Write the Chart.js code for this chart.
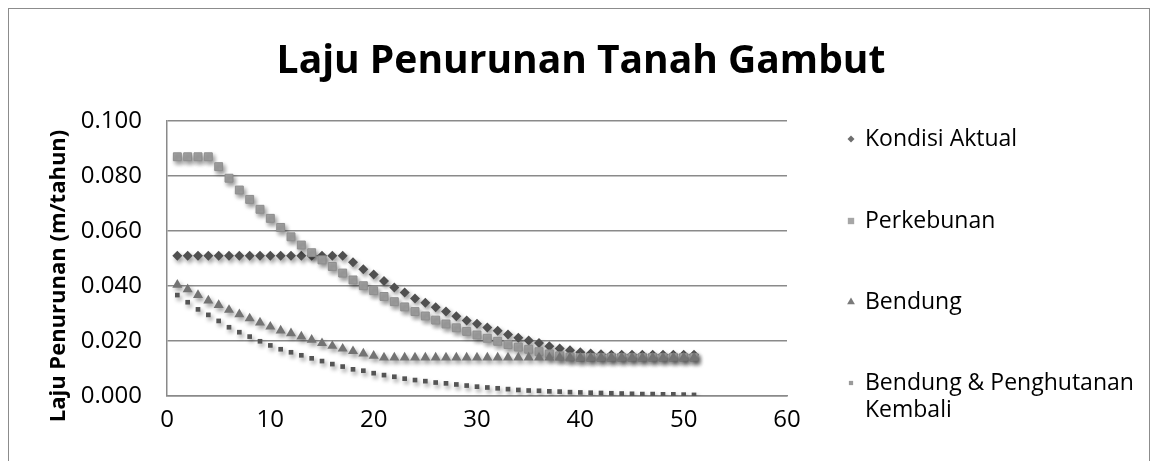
<!DOCTYPE html>
<html>
<head>
<meta charset="utf-8">
<script src="https://cdn.jsdelivr.net/npm/chart.js@4/dist/chart.umd.min.js"></script>
<style>
  html, body { margin: 0; padding: 0; background: #ffffff; }
  #wrap { position: relative; width: 1158px; height: 461px; overflow: hidden; }
  #frame { position: absolute; left: 8px; top: 8px; width: 1142px; height: 480px; border: 1px solid #8c8c8c; box-sizing: border-box; }
  #c { position: absolute; left: 0; top: 0; }
</style>
</head>
<body>
<div id="wrap">
  <div id="frame"></div>
  <canvas id="c" width="1158" height="461"></canvas>
</div>
<script>
// Tahun ke- (sumbu X)
const tahun = [1, 2, 3, 4, 5, 6, 7, 8, 9, 10, 11, 12, 13, 14, 15, 16, 17, 18, 19, 20,
  21, 22, 23, 24, 25, 26, 27, 28, 29, 30, 31, 32, 33, 34, 35, 36, 37, 38, 39, 40,
  41, 42, 43, 44, 45, 46, 47, 48, 49, 50, 51];

// Laju penurunan (m/tahun) per skenario
const kondisiAktual = [0.0510, 0.0510, 0.0510, 0.0510, 0.0510, 0.0510, 0.0510, 0.0510, 0.0510, 0.0510,
  0.0510, 0.0510, 0.0510, 0.0510, 0.0510, 0.0510, 0.0510, 0.0486, 0.0461, 0.0442,
  0.0418, 0.0395, 0.0376, 0.0355, 0.0339, 0.0323, 0.0307, 0.0290, 0.0275, 0.0263,
  0.0249, 0.0237, 0.0224, 0.0212, 0.0202, 0.0193, 0.0181, 0.0173, 0.0166, 0.0159,
  0.0155, 0.0152, 0.0150, 0.0150, 0.0150, 0.0150, 0.0150, 0.0150, 0.0150, 0.0150, 0.0150];

const perkebunan = [0.0870, 0.0870, 0.0870, 0.0870, 0.0834, 0.0792, 0.0749, 0.0715, 0.0679, 0.0646,
  0.0613, 0.0579, 0.0549, 0.0521, 0.0495, 0.0471, 0.0447, 0.0422, 0.0401, 0.0383,
  0.0362, 0.0343, 0.0324, 0.0307, 0.0291, 0.0276, 0.0262, 0.0248, 0.0235, 0.0222,
  0.0210, 0.0199, 0.0187, 0.0178, 0.0170, 0.0161, 0.0153, 0.0146, 0.0142, 0.0140,
  0.0140, 0.0140, 0.0140, 0.0140, 0.0140, 0.0140, 0.0140, 0.0140, 0.0140, 0.0140, 0.0140];

const bendung = [0.0404, 0.0388, 0.0367, 0.0347, 0.0331, 0.0313, 0.0297, 0.0282, 0.0267, 0.0252,
  0.0238, 0.0228, 0.0216, 0.0204, 0.0192, 0.0182, 0.0172, 0.0163, 0.0154, 0.0146,
  0.0140, 0.0140, 0.0140, 0.0140, 0.0140, 0.0140, 0.0140, 0.0140, 0.0140, 0.0140,
  0.0140, 0.0140, 0.0140, 0.0140, 0.0140, 0.0140, 0.0140, 0.0140, 0.0140, 0.0140,
  0.0140, 0.0140, 0.0140, 0.0140, 0.0140, 0.0140, 0.0140, 0.0140, 0.0140, 0.0140, 0.0140];

const bendungPenghutanan = [0.0367, 0.0341, 0.0315, 0.0295, 0.0273, 0.0250, 0.0232, 0.0216, 0.0199, 0.0184,
  0.0170, 0.0159, 0.0148, 0.0137, 0.0127, 0.0116, 0.0107, 0.0097, 0.0092, 0.0083,
  0.0076, 0.0070, 0.0063, 0.0058, 0.0054, 0.0049, 0.0046, 0.0042, 0.0038, 0.0034,
  0.0031, 0.0028, 0.0025, 0.0022, 0.0020, 0.0019, 0.0017, 0.0016, 0.0014, 0.0013,
  0.0012, 0.0011, 0.0010, 0.0009, 0.0008, 0.0007, 0.0007, 0.0006, 0.0006, 0.0005, 0.0004];

const seriesNames = ['Kondisi Aktual', 'Perkebunan', 'Bendung', 'Bendung & Penghutanan Kembali'];
const legendLines = [['Kondisi Aktual'], ['Perkebunan'], ['Bendung'], ['Bendung & Penghutanan', 'Kembali']];
const chartTitle = 'Laju Penurunan Tanah Gambut';
const yTitle = 'Laju Penurunan (m/tahun)';
const xTicks = [0, 10, 20, 30, 40, 50, 60];
const yTicks = [0, 0.02, 0.04, 0.06, 0.08, 0.1];

const FONT = "'Open Sans', 'Liberation Sans', sans-serif";
const AXIS = '#8a8a8a';

function pts(values) {
  return tahun.map((t, i) => ({ x: t, y: values[i] }));
}

// Soft drop shadow under the markers
const markerShadow = {
  id: 'markerShadow',
  beforeDatasetsDraw(chart) {
    const ctx = chart.ctx;
    ctx.save();
    ctx.shadowColor = 'rgba(0,0,0,0.4)';
    ctx.shadowBlur = 4;
    ctx.shadowOffsetX = 2;
    ctx.shadowOffsetY = 3;
  },
  afterDatasetsDraw(chart) {
    chart.ctx.restore();
  }
};

// Title, rotated axis title and side legend
const sideText = {
  id: 'sideText',
  afterDraw(chart) {
    const ctx = chart.ctx;
    ctx.save();
    ctx.fillStyle = '#000000';
    ctx.textAlign = 'center';
    ctx.textBaseline = 'middle';
    ctx.font = "bold 39px " + FONT;
    ctx.fillText(chartTitle, 581, 62);

    ctx.save();
    ctx.translate(59, 276);
    ctx.rotate(-Math.PI / 2);
    ctx.font = "bold 22px " + FONT;
    ctx.fillText(yTitle, 0, 0);
    ctx.restore();

    const itemY = [139, 221, 302, 383];
    const legendMarks = [
      { style: 'rectRot', r: 3.5, fill: '#6e6e6e' },
      { style: 'rect', r: 4.5, fill: '#a6a6a6' },
      { style: 'triangle', r: 4.5, fill: '#7a7a7a' },
      { style: 'rect', r: 3, fill: '#9a9a9a' }
    ];
    ctx.font = "23px " + FONT;
    ctx.textAlign = 'left';
    legendLines.forEach((lines, i) => {
      const m = legendMarks[i];
      ctx.fillStyle = m.fill;
      Chart.helpers.drawPoint(ctx, { pointStyle: m.style, radius: m.r, rotation: 0, borderWidth: 0 }, 851, itemY[i]);
      ctx.fillStyle = '#000000';
      lines.forEach((ln, j) => ctx.fillText(ln, 865, itemY[i] + j * 27));
    });
    ctx.restore();
  }
};

const ctx = document.getElementById('c').getContext('2d');
new Chart(ctx, {
  type: 'scatter',
  data: {
    datasets: [
      { label: seriesNames[0], data: pts(kondisiAktual), pointStyle: 'rectRot', pointRadius: 5,
        backgroundColor: '#505050', borderColor: '#505050', borderWidth: 0, order: 4 },
      { label: seriesNames[1], data: pts(perkebunan), pointStyle: 'rect', pointRadius: 5.6,
        backgroundColor: '#a3a3a3', borderColor: '#8e8e8e', borderWidth: 1, order: 3 },
      { label: seriesNames[2], data: pts(bendung), pointStyle: 'triangle', pointRadius: 5.8,
        backgroundColor: '#737373', borderColor: '#737373', borderWidth: 0, order: 2 },
      { label: seriesNames[3], data: pts(bendungPenghutanan), pointStyle: 'rect', pointRadius: 3.3,
        backgroundColor: '#555555', borderColor: '#555555', borderWidth: 0, order: 1 }
    ]
  },
  options: {
    responsive: false,
    animation: false,
    layout: { padding: { top: 121, right: 371, left: 0, bottom: 0 } },
    plugins: {
      legend: { display: false },
      title: { display: false },
      tooltip: { enabled: false }
    },
    scales: {
      x: {
        type: 'linear',
        min: xTicks[0],
        max: xTicks[xTicks.length - 1],
        afterBuildTicks(scale) { scale.ticks = xTicks.map(v => ({ value: v })); },
        afterFit(scale) { scale.height = 65; },
        grid: { display: false, drawTicks: false },
        border: { display: true, color: AXIS, width: 1.5 },
        ticks: { color: '#000000', padding: 10, maxRotation: 0, font: { family: FONT, size: 24 } }
      },
      y: {
        type: 'linear',
        min: yTicks[0],
        max: yTicks[yTicks.length - 1],
        afterBuildTicks(scale) { scale.ticks = yTicks.map(v => ({ value: v })); },
        afterFit(scale) { scale.width = 167; },
        grid: { color: AXIS, lineWidth: 1.5, drawTicks: false },
        border: { display: true, color: AXIS, width: 1.5 },
        ticks: {
          color: '#000000', padding: 25, font: { family: FONT, size: 24 },
          callback: v => v.toFixed(3)
        }
      }
    }
  },
  plugins: [markerShadow, sideText]
});
</script>
</body>
</html>
